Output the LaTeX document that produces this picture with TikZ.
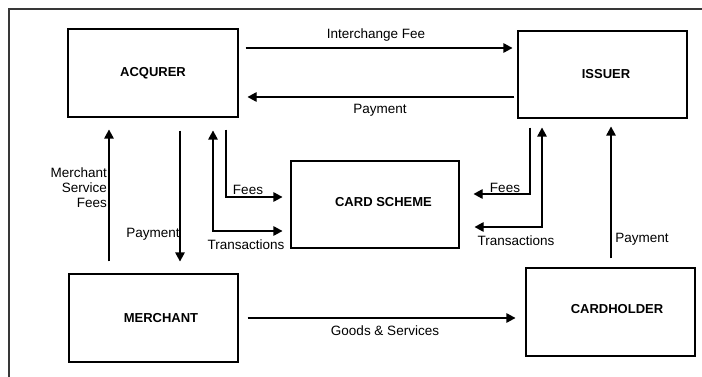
\documentclass[tikz,border=0pt]{standalone}
\usepackage{fontspec}
\setmainfont{Liberation Sans}
\usetikzlibrary{arrows.meta}
\begin{document}
\begin{tikzpicture}[x=1pt,y=-1pt,
  box/.style={draw=black,line width=1.1pt,inner sep=0pt,font=\bfseries\fontsize{13}{15}\selectfont},
  lbl/.style={inner sep=0pt,font=\fontsize{13.5}{16}\selectfont},
  blbl/.style={inner sep=0pt,font=\bfseries\fontsize{13}{15}\selectfont},
  conn/.style={line width=1.1pt,draw=black},
  arr/.style={conn,-{Triangle[length=9pt,width=9.5pt]}},
  darr/.style={conn,{Triangle[length=9pt,width=9.5pt]}-{Triangle[length=9pt,width=9.5pt]}},
  frame/.style={line width=2pt,draw=black!78}]
\useasboundingbox (0,0) rectangle (702,377);
\draw[frame] (9,377) -- (9,9) -- (702,9);
% boxes
\node[box,minimum width=170pt,minimum height=88pt] (acq) at (153,73) {ACQURER};
\node[box,minimum width=169pt,minimum height=87pt,label={[blbl,xshift=3.5pt]center:ISSUER}] (iss) at (602.5,74.5) {};
\node[box,minimum width=168pt,minimum height=87pt,label={[blbl,xshift=8.5pt,yshift=2pt]center:CARD SCHEME}] (card) at (375,204.5) {};
\node[box,minimum width=169pt,minimum height=88pt,label={[blbl,xshift=7.5pt]center:MERCHANT}] (merch) at (153.5,318) {};
\node[box,minimum width=169pt,minimum height=88pt,label={[blbl,xshift=6.5pt,yshift=3pt]center:CARDHOLDER}] (ch) at (610.5,312) {};
% guide coordinates
\coordinate (yi) at (0,48);
\coordinate (yp) at (0,97);
\coordinate (yg) at (0,318);
\coordinate (mfx) at (109,0);
\coordinate (lpx) at (180,0);
\coordinate (ltx) at (213,0);
\coordinate (lfx) at (226,0);
\coordinate (lty) at (0,231);
\coordinate (lfy) at (0,197);
\coordinate (rfx) at (530,0);
\coordinate (rtx) at (542,0);
\coordinate (rfy) at (0,194);
\coordinate (rty) at (0,227);
\coordinate (rpx) at (611,0);
% connectors
\draw[arr,shorten <=7pt,shorten >=5pt] (acq.east |- yi) -- (iss.west |- yi);
\draw[arr,shorten <=3pt,shorten >=9pt] (iss.west |- yp) -- (acq.east |- yp);
\draw[arr,shorten <=9pt,shorten >=10pt] (merch.east |- yg) -- (ch.west |- yg);
\draw[arr,shorten <=12pt,shorten >=12pt] (mfx |- merch.north) -- (mfx |- acq.south);
\draw[arr,shorten <=13pt,shorten >=12pt] (lpx |- acq.south) -- (lpx |- merch.north);
\draw[darr,shorten <=13pt,shorten >=8pt] (ltx |- acq.south) |- (card.west |- lty);
\draw[arr,shorten <=12pt,shorten >=8pt] (lfx |- acq.south) |- (card.west |- lfy);
\draw[arr,shorten <=9pt,shorten >=14pt] (rfx |- iss.south) |- (card.east |- rfy);
\draw[darr,shorten <=9pt,shorten >=15pt] (rtx |- iss.south) |- (card.east |- rty);
\draw[arr,shorten <=9pt,shorten >=8pt] (rpx |- ch.north) -- (rpx |- iss.south);
% labels
\node[lbl] (tif) at (376,35) {Interchange Fee};
\node[lbl] (tpay1) at (380,110) {Payment};
\node[lbl] (tgs) at (385,331) {Goods \& Services};
\node[lbl,align=right,anchor=east] (tmsf) at (107,188) {Merchant\\[-1pt]Service\\[-1pt]Fees};
\node[lbl] (tpay2) at (153,234) {Payment};
\node[lbl] (tfee1) at (248,190) {Fees};
\node[lbl] (ttr1) at (246,245) {Transactions};
\node[lbl] (tfee2) at (505,188) {Fees};
\node[lbl] (ttr2) at (516,241) {Transactions};
\node[lbl] (tpay3) at (642,239) {Payment};
\end{tikzpicture}
\end{document}
